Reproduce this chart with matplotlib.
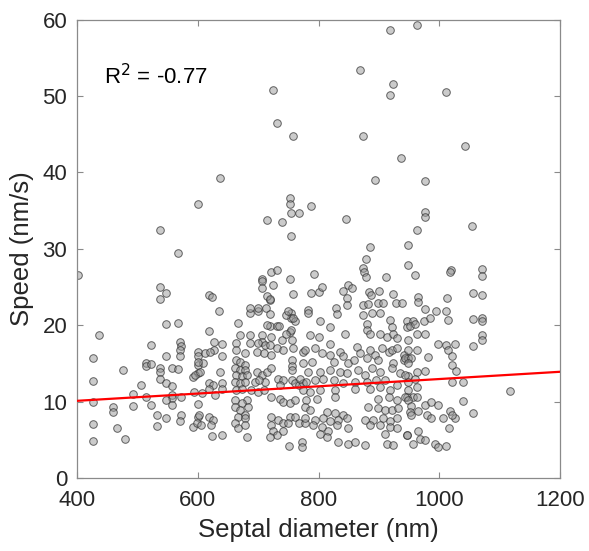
import matplotlib
matplotlib.use("Agg")
import matplotlib.pyplot as plt
import numpy as np

plt.rcParams['font.family'] = ['Liberation Sans', 'DejaVu Sans']

# Septal diameter (nm) and speed (nm/s)
diam = [
 725,732,758,637,600,537,568,402,753,753,754,767,714,740,754,721,732,707,752,
 918,963,868,923,918,1011,874,1043,936,894,977,788,846,977,977,1055,963,886,949,878,874,875,878,949,960,911,792,1020,1017,1071,1071,
 537,547,537,547,568,436,522,571,572,571,571,547,426,600,600,514,514,523,557,568,537,537,477,600,600,426,537,547,558,592,506,493,514,557,557,572,547,594,426,459,459,493,523,558,600,532,547,572,571,600,426,532,592,466,480,426,
 636,687,699,699,713,720,754,754,761,667,720,731,752,754,619,670,687,687,706,706,700,711,722,720,739,746,756,758,663,663,627,640,627,612,620,608,601,640,678,698,709,722,731,742,756,756,756,775,
 664,670,678,662,670,678,664,673,681,662,670,678,664,673,
 637,595,604,618,626,618,640,640,607,629,
 698,706,714,722,695,711,702,733,742,736,756,761,767,775,
 689,700,709,722,736,742,753,761,681,673,662,684,
 662,670,678,667,678,602,598,618,626,622,605,662,667,678,
 722,722,733,742,725,731,720,742,753,761,750,767,778,
 623,640,682,751,772,772,
 707,707,725,757,714,720,619,624,686,720,714,735,746,750,757,
 787,800,806,849,856,841,847,847,883,887,901,874,899,924,928,829,783,882,907,938,
 783,830,874,888,902,
 803,819,844,880,919,921,946,946,
 786,800,819,880,885,902,913,924,930,
 778,794,805,819,836,841,863,869,885,894,905,916,921,930,941,
 775,789,825,849,858,880,899,924,941,949,
 783,803,819,836,847,866,877,888,902,921,935,949,
 769,780,794,808,825,841,861,880,896,910,930,949,
 775,786,803,827,861,885,902,919,
 780,797,827,899,916,930,946,
 778,786,814,827,841,882,899,910,921,932,
 778,794,808,819,833,847,877,891,907,919,930,
 791,805,816,830,849,885,902,919,930,946,
 803,814,833,849,861,877,910,913,924,
 957,952,960,974,985,1015,1056,1071,1071,
 963,976,949,949,963,998,1012,1026,1015,1056,1071,1071,
 943,954,982,1021,949,1021,1027,963,976,
 943,960,1021,1040,
 949,963,943,957,963,949,
 1117,1040,
 954,976,986,998,952,965,954,979,987,1007,1018,1026,1021,1056,
 1016,
 946,965,957,968,976,993,998,1012,
 965,965,1013,1056,1071,977,994,1012,
]
speed = [
 50.8,46.5,44.7,39.3,35.8,32.5,29.4,26.5,36.6,35.9,34.7,34.7,33.8,33.5,31.7,26.9,27.2,26.0,26.1,
 58.6,59.3,53.4,51.5,50.1,50.5,44.7,43.4,41.9,39.0,38.9,35.6,33.9,34.8,34.2,33.0,32.5,30.2,30.5,28.7,27.5,26.9,26.3,27.9,26.6,26.3,26.7,27.2,26.9,27.4,26.4,
 25.0,24.2,23.4,20.1,20.3,18.7,17.4,17.8,17.3,16.7,16.0,16.0,15.7,16.5,16.0,15.1,14.7,14.9,14.4,14.3,14.4,13.9,14.1,14.8,13.8,12.7,13.0,12.4,12.0,13.2,12.2,11.0,10.6,10.9,10.5,10.6,10.2,11.2,9.9,9.3,8.7,9.4,9.5,9.6,9.7,8.2,7.8,8.2,7.5,8.0,7.1,6.8,6.7,6.6,5.1,4.8,
 21.8,21.6,21.8,22.2,22.2,23.3,21.6,21.0,20.6,20.3,19.9,19.9,19.1,19.4,19.3,18.7,18.7,17.7,18.7,17.8,17.7,17.4,18.4,17.4,18.1,18.9,18.1,17.0,17.7,16.8,17.8,17.5,16.8,16.3,16.5,15.0,15.2,15.9,16.3,16.5,16.3,16.1,17.0,16.7,15.4,14.6,14.1,16.5,
 15.4,15.2,14.8,14.4,14.1,14.1,13.5,13.3,13.5,12.6,12.4,12.6,11.5,11.7,
 13.9,13.5,13.9,12.4,12.2,11.7,12.4,11.7,11.1,10.9,
 13.9,13.5,13.9,14.4,12.6,12.6,12.8,13.0,12.8,12.2,12.8,12.4,12.2,12.4,
 11.5,11.3,11.5,10.6,10.4,10.0,9.8,10.2,10.2,9.8,10.2,9.3,
 9.3,8.9,8.2,8.0,7.8,8.2,7.2,8.0,7.6,6.9,6.9,7.2,6.5,6.9,
 8.0,6.9,7.6,7.2,6.1,5.6,5.4,6.1,8.0,8.0,7.2,7.2,7.2,
 5.5,5.6,5.4,4.2,4.75,4.1,
 25.8,24.9,25.3,24.1,23.8,23.4,24.0,23.7,22.3,21.5,20.0,19.9,21.3,21.8,20.9,
 24.2,24.4,25.0,25.3,24.9,24.5,23.6,22.7,24.4,23.9,24.5,22.7,22.9,24.1,22.9,22.3,22.0,22.8,22.9,22.9,
 21.6,21.5,21.3,21.6,21.6,
 20.5,19.7,18.9,20.2,20.7,19.7,20.6,19.8,
 18.7,18.5,17.6,19.4,18.9,18.9,18.5,18.9,18.3,
 16.7,17.0,16.3,16.1,16.5,15.9,17.2,16.3,16.7,16.1,17.0,16.5,16.7,17.0,16.1,
 15.0,15.2,15.2,15.0,15.4,15.7,15.4,15.0,15.4,15.7,
 13.9,13.9,14.1,13.9,13.7,14.1,13.5,14.4,13.9,14.4,13.7,13.3,
 13.0,12.6,12.8,13.0,12.8,12.4,12.6,12.6,12.8,12.8,12.2,12.6,
 11.5,11.3,11.5,11.5,11.7,11.7,11.9,11.5,
 10.2,10.4,10.6,10.4,10.6,10.2,10.6,
 9.3,8.9,8.7,8.5,8.2,9.3,9.1,8.9,8.9,9.1,
 7.8,7.6,7.8,7.4,7.6,7.8,7.6,7.6,7.8,7.4,7.8,
 6.9,6.7,6.1,6.9,6.5,6.9,6.9,6.7,6.5,5.6,
 5.8,5.4,4.75,4.5,4.75,4.3,5.8,4.5,4.3,
 20.6,19.9,20.2,20.5,20.9,20.7,20.8,20.9,20.5,
 18.9,18.9,18.1,16.7,16.8,17.6,17.4,17.5,16.7,17.3,18.7,18.0,
 15.7,15.7,15.8,16.0,15.0,14.8,14.0,13.9,14.0,
 13.5,13.0,12.6,12.6,
 11.5,11.9,10.6,10.6,10.6,10.2,
 11.4,10.1,
 9.4,9.6,9.9,9.55,8.7,8.8,8.2,8.2,7.9,7.8,8.8,7.9,8.2,8.5,
 6.6,
 5.6,6.1,4.5,5.1,5.0,4.4,4.1,4.2,
 23.7,23.0,23.5,24.2,23.9,22.1,21.8,21.9,
]

fit_x = [400, 1200]
fit_y = [10.1, 13.9]

x_ticks = [400, 600, 800, 1000, 1200]
y_ticks = [0, 10, 20, 30, 40, 50, 60]

W, H = 589, 551
fig = plt.figure(figsize=(W / 100, H / 100), dpi=100)
ax = fig.add_axes([77 / W, 1 - 478 / H, (560 - 77) / W, (478 - 19.5) / H])

ax.scatter(diam, speed, s=30, facecolor=(0.6, 0.6, 0.6, 0.5),
           edgecolor=(0.2, 0.2, 0.2, 0.75), linewidths=0.7, zorder=2)
ax.plot(fit_x, fit_y, color='#ff0000', lw=1.6, zorder=3)

ax.set_xlim(400, 1200)
ax.set_ylim(0, 60)
ax.set_xticks(x_ticks)
ax.set_yticks(y_ticks)

txt = '#262626'
for s in ax.spines.values():
    s.set_color('#8a8a8a')
    s.set_linewidth(0.9)
ax.tick_params(direction='in', length=4, width=0.8, color='#8a8a8a',
               top=True, right=True, labelsize=16, labelcolor=txt)
ax.tick_params(axis='x', pad=9)
ax.tick_params(axis='y', pad=7)

ax.set_xlabel('Septal diameter (nm)', fontsize=18.5, color=txt, labelpad=5)
ax.set_ylabel('Speed (nm/s)', fontsize=18.5, color=txt, labelpad=6)

ax.text(445, 52.5, r'R$^2$ = -0.77', fontsize=16, color='black',
        va='center', ha='left')

fig.savefig('out.png', dpi=100)
